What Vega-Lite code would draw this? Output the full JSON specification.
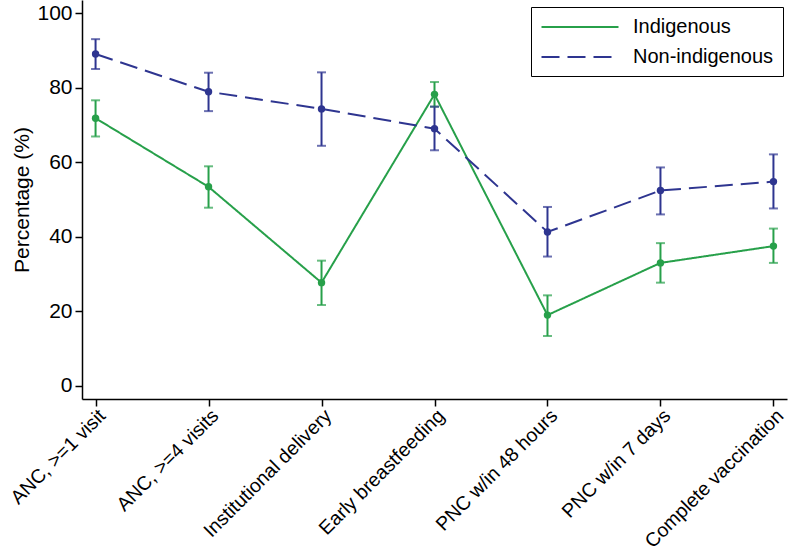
{
  "$schema": "https://vega.github.io/schema/vega-lite/v6.json",
  "autosize": "none",
  "width": 705,
  "height": 399,
  "padding": {"left": 82, "top": 0, "right": 1, "bottom": 156},
  "background": "white",
  "config": {
    "font": "Liberation Sans",
    "view": {"stroke": null},
    "axis": {"grid": false, "domainColor": "black", "domainWidth": 1.5, "tickColor": "black", "tickWidth": 1.5, "tickSize": 7, "labelColor": "black", "labelFontSize": 21, "titleFontSize": 21, "titleFontWeight": "normal", "titleColor": "black", "labelFont": "Liberation Sans", "titleFont": "Liberation Sans", "labelLimit": 400},
    "legend": {"labelFont": "Liberation Sans"}
  },
  "data": {
    "values": [
      {"group": "Indigenous", "category": "ANC, >=1 visit", "value": 71.8, "lo": 66.9, "hi": 76.6},
      {"group": "Indigenous", "category": "ANC, >=4 visits", "value": 53.4, "lo": 47.8, "hi": 58.9},
      {"group": "Indigenous", "category": "Institutional delivery", "value": 27.7, "lo": 21.7, "hi": 33.6},
      {"group": "Indigenous", "category": "Early breastfeeding", "value": 78.2, "lo": 74.9, "hi": 81.5},
      {"group": "Indigenous", "category": "PNC w/in 48 hours", "value": 19.0, "lo": 13.4, "hi": 24.3},
      {"group": "Indigenous", "category": "PNC w/in 7 days", "value": 33.0, "lo": 27.7, "hi": 38.3},
      {"group": "Indigenous", "category": "Complete vaccination", "value": 37.5, "lo": 33.0, "hi": 42.2},
      {"group": "Non-indigenous", "category": "ANC, >=1 visit", "value": 89.0, "lo": 85.0, "hi": 93.0},
      {"group": "Non-indigenous", "category": "ANC, >=4 visits", "value": 78.9, "lo": 73.7, "hi": 84.0},
      {"group": "Non-indigenous", "category": "Institutional delivery", "value": 74.3, "lo": 64.4, "hi": 84.1},
      {"group": "Non-indigenous", "category": "Early breastfeeding", "value": 69.0, "lo": 63.2, "hi": 74.9},
      {"group": "Non-indigenous", "category": "PNC w/in 48 hours", "value": 41.3, "lo": 34.7, "hi": 48.0},
      {"group": "Non-indigenous", "category": "PNC w/in 7 days", "value": 52.4, "lo": 46.0, "hi": 58.6},
      {"group": "Non-indigenous", "category": "Complete vaccination", "value": 54.8, "lo": 47.6, "hi": 62.1}
    ]
  },
  "encoding": {
    "x": {
      "field": "category", "type": "ordinal",
      "sort": ["ANC, >=1 visit", "ANC, >=4 visits", "Institutional delivery", "Early breastfeeding", "PNC w/in 48 hours", "PNC w/in 7 days", "Complete vaccination"],
      "scale": {"type": "point", "padding": 0.12},
      "axis": {"title": null, "labelAngle": -45, "labelAlign": "right", "labelBaseline": "top", "labelPadding": 0, "labelFontSize": 19.5, "labelLimit": 400}
    },
    "color": {
      "field": "group", "type": "nominal",
      "scale": {"domain": ["Indigenous", "Non-indigenous"], "range": ["#27a04a", "#2e3590"]},
      "legend": null
    }
  },
  "layer": [
    {
      "mark": {"type": "line", "strokeWidth": 2},
      "encoding": {
        "y": {"field": "value", "type": "quantitative", "scale": {"domain": [-3.5, 103.5], "nice": false, "zero": false},
              "axis": {"title": "Percentage (%)", "values": [0, 20, 40, 60, 80, 100], "titlePadding": 4, "labelPadding": 3, "labelFontSize": 21, "titleFontSize": 21}},
        "color": {
          "field": "group", "type": "nominal",
          "scale": {"domain": ["Indigenous", "Non-indigenous"], "range": ["#27a04a", "#2e3590"]},
          "legend": {
            "title": null, "orient": "none", "legendX": 449, "legendY": 7,
            "symbolType": "M-3.85,0H3.85", "symbolSize": 400, "symbolStrokeWidth": 2,
            "labelFontSize": 20, "labelColor": "black", "rowPadding": 9,
            "strokeColor": "black", "fillColor": "white", "padding": 9, "labelOffset": 42,
            "symbolOffset": 29
          }
        },
        "strokeDash": {
          "field": "group", "type": "nominal",
          "scale": {"domain": ["Indigenous", "Non-indigenous"], "range": [[1, 0], [18, 8]]},
          "legend": {
            "title": null, "orient": "none", "legendX": 449, "legendY": 7,
            "symbolType": "M-3.85,0H3.85", "symbolSize": 400, "symbolStrokeWidth": 2,
            "labelFontSize": 20, "labelColor": "black", "rowPadding": 9,
            "strokeColor": "black", "fillColor": "white", "padding": 9, "labelOffset": 42,
            "symbolOffset": 29
          }
        }
      }
    },
    {
      "mark": {"type": "rule", "strokeWidth": 2},
      "encoding": {"y": {"field": "lo", "type": "quantitative"}, "y2": {"field": "hi"}}
    },
    {
      "mark": {"type": "tick", "thickness": 2, "size": 9, "orient": "horizontal"},
      "encoding": {"y": {"field": "lo", "type": "quantitative"}}
    },
    {
      "mark": {"type": "tick", "thickness": 2, "size": 9, "orient": "horizontal"},
      "encoding": {"y": {"field": "hi", "type": "quantitative"}}
    },
    {
      "mark": {"type": "point", "filled": true, "size": 55, "opacity": 1},
      "encoding": {"y": {"field": "value", "type": "quantitative"}}
    }
  ]
}
